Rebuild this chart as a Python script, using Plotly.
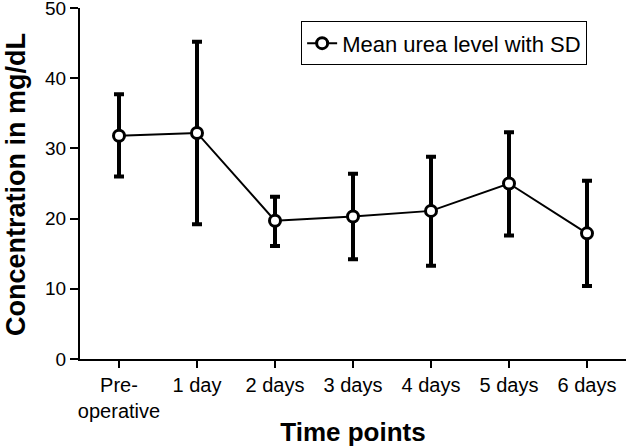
import plotly.graph_objects as go

categories = ["Pre-<br>operative", "1 day", "2 days", "3 days", "4 days", "5 days", "6 days"]
mean_urea = [31.8, 32.2, 19.7, 20.3, 21.1, 25.0, 17.9]
upper = [37.7, 45.2, 23.1, 26.4, 28.8, 32.3, 25.4]
lower = [26.0, 19.2, 16.1, 14.2, 13.3, 17.6, 10.4]
y_ticks = [0, 10, 20, 30, 40, 50]

err_plus = [u - m for u, m in zip(upper, mean_urea)]
err_minus = [m - l for m, l in zip(mean_urea, lower)]

fig = go.Figure()
fig.add_trace(go.Scatter(
    x=list(range(len(categories))), y=mean_urea,
    mode="lines+markers",
    name="Mean urea level with SD",
    line=dict(color="black", width=2),
    marker=dict(symbol="circle", size=11, color="white", line=dict(color="black", width=3)),
    error_y=dict(type="data", symmetric=False, array=err_plus, arrayminus=err_minus,
                 color="black", thickness=4, width=5),
    cliponaxis=False,
))

font_family = "Liberation Sans, Arial, sans-serif"
fig.update_layout(
    width=627, height=447,
    margin=dict(l=80, r=1, t=8, b=88, autoexpand=False),
    paper_bgcolor="white", plot_bgcolor="white",
    font=dict(family=font_family, color="black", size=20),
    showlegend=True,
    legend=dict(x=0.405, y=0.962, xanchor="left", yanchor="top",
                bordercolor="black", borderwidth=1, bgcolor="white",
                font=dict(size=22, family=font_family), itemwidth=30),
    xaxis=dict(
        range=[-0.5, 6.5], automargin=False,
        tickmode="array", tickvals=list(range(len(categories))), ticktext=categories,
        showline=True, linecolor="black", linewidth=2,
        ticks="outside", ticklen=7, tickwidth=2, tickcolor="black",
        showgrid=False, zeroline=False,
        tickfont=dict(size=20),
        title=dict(text="<b>Time points</b>", font=dict(size=26), standoff=2),
    ),
    yaxis=dict(
        range=[0, 50], tickvals=y_ticks, automargin=False,
        showline=True, linecolor="black", linewidth=2,
        ticks="outside", ticklen=8, tickwidth=2, tickcolor="black",
        showgrid=False, zeroline=False, ticklabeloverflow="allow",
        tickfont=dict(size=19),
    ),
    annotations=[dict(
        text="<b>Concentration in mg/dL</b>", textangle=-90,
        xref="paper", yref="paper", x=-0.1172, y=0.496,
        xanchor="center", yanchor="middle", showarrow=False,
        font=dict(size=27, family=font_family, color="black"),
    )],
)

fig.write_html("out.html", config={"displayModeBar": False},
               post_script="document.body.style.margin='0';")
